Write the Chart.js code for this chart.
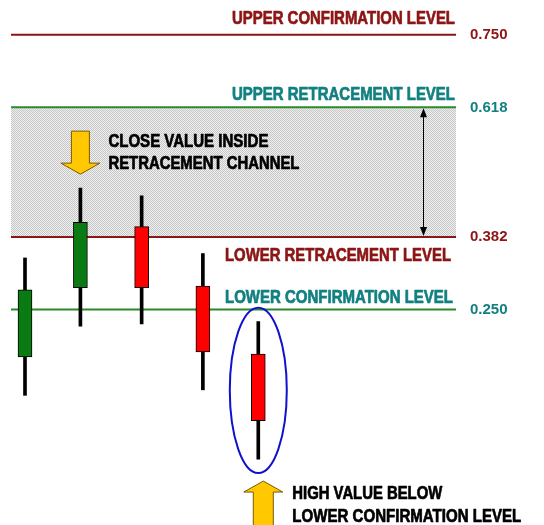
<!DOCTYPE html>
<html><head><meta charset="utf-8">
<script src="https://cdn.jsdelivr.net/npm/chart.js@4/dist/chart.umd.min.js"></script>
<style>html,body{margin:0;padding:0;background:#fff;overflow:hidden}</style>
</head><body>
<canvas id="c" width="544" height="525"></canvas>
<script>
// ---- data ----
const candleX   = [1, 1.95, 3, 4.05, 5];
const openV     = [0.164, 0.290, 0.401, 0.293, 0.169];
const closeV    = [0.286, 0.409, 0.290, 0.173, 0.048];
const highV     = [0.344, 0.471, 0.457, 0.352, 0.228];
const lowV      = [0.094, 0.220, 0.224, 0.104, -0.022];
const levelValues = [0.750, 0.618, 0.382, 0.250];
const levelLabels = ['0.750', '0.618', '0.382', '0.250'];
const levelNames  = ['UPPER CONFIRMATION LEVEL', 'UPPER RETRACEMENT LEVEL', 'LOWER RETRACEMENT LEVEL', 'LOWER CONFIRMATION LEVEL'];
const noteChannel = ['CLOSE VALUE INSIDE', 'RETRACEMENT CHANNEL'];
const noteBreak   = ['HIGH VALUE BELOW', 'LOWER CONFIRMATION LEVEL'];
const channelArrowX = 7.82;
const xRange = [0.76, 8.39];
const yRange = [-0.142, 0.8134];

// ---- styles ----
const DARKRED = '#8c1515', TEAL = '#128080', LINEGREEN = '#2b8a2b', CANDLEGREEN = '#0a7a12', CANDLERED = '#ff0000';
const levelLineColors = [DARKRED, LINEGREEN, DARKRED, LINEGREEN];
const levelTextColors = [DARKRED, TEAL, DARKRED, TEAL];
const FONT = '"Liberation Sans", Arial, sans-serif';
// layout of the text blocks (pixel styling)
const nameWidths = [223, 223, 226, 228];
const nameDy = [-11, -7, 24, -7];
const nameDx = [-1, -1, -5, -3];
const channelWidths = [160, 191];
const breakWidths = [150, 229];

function makePattern() {
  const p = document.createElement('canvas'); p.width = 2; p.height = 2;
  const g = p.getContext('2d');
  g.fillStyle = '#f0f0f0'; g.fillRect(0, 0, 2, 2);
  g.fillStyle = '#c6c6c6'; g.fillRect(0, 0, 1, 1); g.fillRect(1, 1, 1, 1);
  return g.createPattern(p, 'repeat');
}

const levelDatasets = levelValues.map((v, i) => ({
  type: 'line',
  data: [{x: xRange[0], y: v}, {x: xRange[1], y: v}],
  borderColor: levelLineColors[i],
  borderWidth: 2,
  pointRadius: 0,
  order: 10,
  fill: i === 1 ? {target: 2} : false,
  backgroundColor: i === 1 ? makePattern() : 'transparent'
}));

const wickData = candleX.map((x, i) => ({x, y: [lowV[i], highV[i]]}));
const bodyData = candleX.map((x, i) => ({x, y: [openV[i], closeV[i]]}));
const bodyColors = candleX.map((x, i) => closeV[i] >= openV[i] ? CANDLEGREEN : CANDLERED);

function arrowPath(ctx, cx, tipY, dir, len, shaftW, headW, headLen) {
  const baseY = tipY - dir * len, headY = tipY - dir * headLen;
  ctx.beginPath();
  ctx.moveTo(cx - shaftW / 2, baseY);
  ctx.lineTo(cx + shaftW / 2, baseY);
  ctx.lineTo(cx + shaftW / 2, headY);
  ctx.lineTo(cx + headW / 2, headY);
  ctx.lineTo(cx, tipY);
  ctx.lineTo(cx - headW / 2, headY);
  ctx.lineTo(cx - shaftW / 2, headY);
  ctx.closePath();
  ctx.fillStyle = '#ffc800'; ctx.fill();
  ctx.strokeStyle = '#7a5a00'; ctx.lineWidth = 1; ctx.stroke();
}

// draws text left-aligned at xLeft, squeezed horizontally to the given width (narrow bold face)
function narrowText(ctx, text, xLeft, baseline, width, color) {
  const w = ctx.measureText(text).width;
  ctx.save();
  ctx.translate(xLeft, baseline);
  ctx.scale(width / w, 1);
  ctx.textAlign = 'left'; ctx.textBaseline = 'alphabetic';
  ctx.fillStyle = color; ctx.strokeStyle = color; ctx.lineWidth = 0.7; ctx.lineJoin = 'round';
  ctx.fillText(text, 0, 0);
  ctx.strokeText(text, 0, 0);
  ctx.restore();
}

const annotations = {
  id: 'annotations',
  afterDatasetsDraw(chart) {
    const {ctx, chartArea, scales: {x, y}} = chart;
    ctx.save();
    // double arrow through the retracement channel
    const ax = Math.round(x.getPixelForValue(channelArrowX)) + 0.5;
    const yTop = y.getPixelForValue(levelValues[1]) + 1, yBot = y.getPixelForValue(levelValues[2]) - 1;
    ctx.strokeStyle = '#000'; ctx.fillStyle = '#000'; ctx.lineWidth = 1;
    ctx.beginPath(); ctx.moveTo(ax, yTop + 6); ctx.lineTo(ax, yBot - 6); ctx.stroke();
    ctx.beginPath(); ctx.moveTo(ax, yTop); ctx.lineTo(ax - 3.5, yTop + 9); ctx.lineTo(ax + 3.5, yTop + 9); ctx.closePath(); ctx.fill();
    ctx.beginPath(); ctx.moveTo(ax, yBot); ctx.lineTo(ax - 3.5, yBot - 9); ctx.lineTo(ax + 3.5, yBot - 9); ctx.closePath(); ctx.fill();

    // level names
    ctx.font = 'bold 18px ' + FONT;
    levelNames.forEach((t, i) => {
      narrowText(ctx, t, chartArea.right + nameDx[i] - nameWidths[i], y.getPixelForValue(levelValues[i]) + nameDy[i], nameWidths[i], levelTextColors[i]);
    });

    // down arrow above candle 2 + note
    const c2x = x.getPixelForValue(candleX[1]);
    const c2high = y.getPixelForValue(highV[1]);
    const tip1 = c2high - 14;
    arrowPath(ctx, c2x, tip1, 1, 43, 18, 39, 11);
    narrowText(ctx, noteChannel[0], c2x + 28, tip1 - 27, channelWidths[0], '#000');
    narrowText(ctx, noteChannel[1], c2x + 28, tip1 - 5, channelWidths[1], '#000');

    // ellipse around candle 5
    const c5x = x.getPixelForValue(candleX[4]);
    const c5h = y.getPixelForValue(highV[4]), c5l = y.getPixelForValue(lowV[4]);
    const ecy = (c5h + c5l) / 2, ery = (c5l - c5h) / 2 + 14;
    ctx.strokeStyle = '#1010d0'; ctx.lineWidth = 2;
    ctx.beginPath(); ctx.ellipse(c5x, ecy, 28.5, ery, 0, 0, Math.PI * 2); ctx.stroke();

    // up arrow + note
    const tip2 = ecy + ery + 8;
    const ux = c5x + 5;
    arrowPath(ctx, ux, tip2, -1, 60, 20, 39, 11);
    narrowText(ctx, noteBreak[0], ux + 29, tip2 + 18, breakWidths[0], '#000');
    narrowText(ctx, noteBreak[1], ux + 29, tip2 + 41, breakWidths[1], '#000');
    ctx.restore();
  }
};

new Chart(document.getElementById('c'), {
  type: 'bar',
  data: {
    datasets: [
      ...levelDatasets,
      {type: 'bar', data: wickData, backgroundColor: '#000', barThickness: 3, grouped: false, order: 2},
      {type: 'bar', data: bodyData, backgroundColor: bodyColors, borderColor: '#000', borderWidth: 1,
       borderSkipped: false, barThickness: 14, grouped: false, order: 1}
    ]
  },
  options: {
    responsive: false,
    animation: false,
    devicePixelRatio: 1,
    layout: {autoPadding: false, padding: {left: 11, right: 0, top: 0, bottom: 0}},
    plugins: {legend: {display: false}, tooltip: {enabled: false}, filler: {drawTime: 'beforeDatasetsDraw'}},
    scales: {
      x: {type: 'linear', display: false, min: xRange[0], max: xRange[1], offset: false},
      y: {
        type: 'linear', position: 'right', min: yRange[0], max: yRange[1],
        grid: {display: false, drawTicks: false}, border: {display: false},
        afterBuildTicks: s => { s.ticks = levelValues.map(v => ({value: v})); },
        afterFit: s => { s.width = 88; s.paddingTop = 0; s.paddingBottom = 0; },
        ticks: {
          padding: 14,
          font: {family: FONT, size: 15, weight: 'bold'},
          color: c => levelTextColors[levelValues.indexOf(c.tick.value)] || '#000',
          callback: v => { const i = levelValues.indexOf(v); return i >= 0 ? levelLabels[i] : ''; }
        }
      }
    }
  },
  plugins: [annotations]
});
</script>
</body></html>
